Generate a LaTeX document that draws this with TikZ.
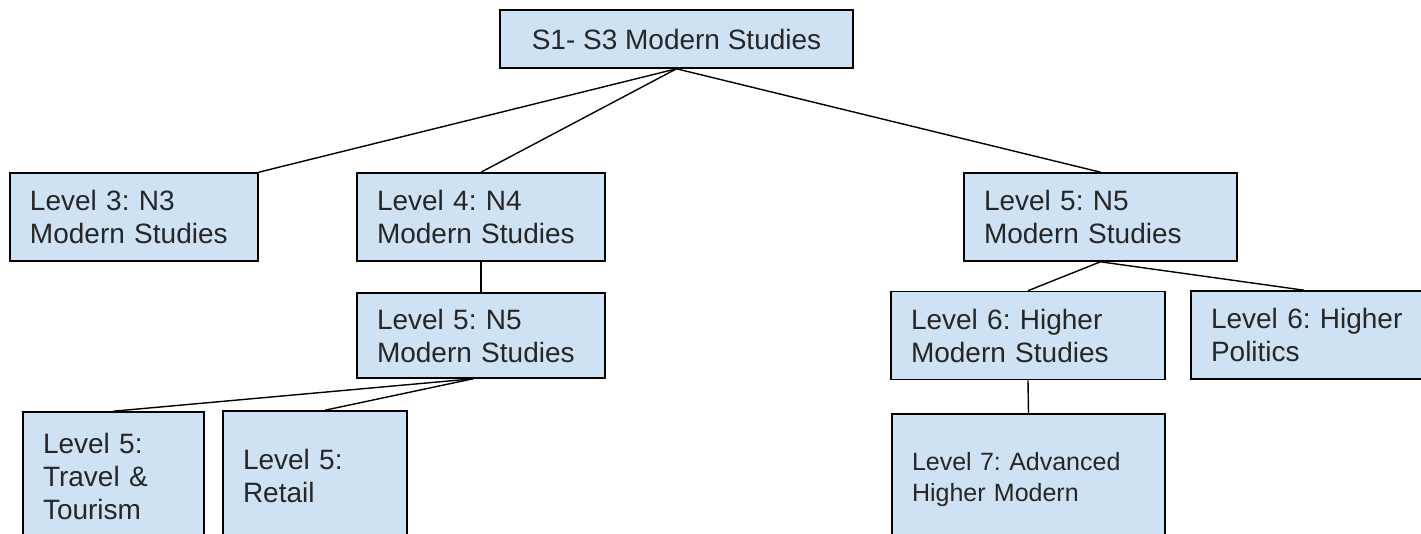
\documentclass[tikz,border=0pt]{standalone}
\usepackage{fontspec}
\setmainfont{Liberation Sans}
\frenchspacing
\definecolor{boxblue}{HTML}{CFE2F3}

\begin{document}
\begin{tikzpicture}[x=0.5pt,y=-0.5pt,
    course/.style={draw=black, fill=boxblue, line width=0.8pt, align=left, text=black!85,
        inner xsep=10pt, inner ysep=0pt, font=\fontsize{14}{16.5}\selectfont},
    link/.style={draw=black, line width=0.7pt}]

        % Fix the page to the size of the picture
        \useasboundingbox (0,0) rectangle (1421,534);
        \clip (0,0) rectangle (1421,534);

        % Draw the S1-S3 course at the top
        \node[course, align=center, minimum width=176.5pt, minimum height=29pt] (broad) at (676.5,39) {S1- S3 Modern Studies};

        % Draw the first row of levels
        \node[course, text width=104pt, minimum height=44pt] (nthree) at (134,217) {Level 3: N3\\Modern Studies};
        \node[course, text width=104pt, minimum height=44pt] (nfour) at (481,217) {Level 4: N4\\Modern Studies};
        \node[course, text width=116.5pt, minimum height=44pt] (nfiveR) at (1100.5,217) {Level 5: N5\\Modern Studies};

        % Draw the courses after N4
        \node[course, text width=104pt, minimum height=42.5pt] (nfiveL) at (481,335.5) {Level 5: N5\\Modern Studies};
        \node[course, text width=70.5pt, minimum height=64pt] (travel) at (113.5,476) {Level 5:\\Travel \&\\Tourism};
        \node[course, text width=72pt, minimum height=64.5pt] (retail) at (315,475.5) {Level 5:\\Retail};

        % Draw the courses after N5
        \node[course, text width=117pt, minimum height=44pt] (higher) at (1028,335.5) {Level 6: Higher\\Modern Studies};
        \node[course, text width=117pt, minimum height=44pt] (politics) at (1328,335) {Level 6: Higher\\Politics};
        \node[course, text width=116.5pt, minimum height=66pt, font=\fontsize{12.5}{15.5}\selectfont] (advanced) at (1028.5,480) {Level 7: Advanced\\Higher Modern};

        % Draw the links
        \draw[link] (broad.south) -- (nthree.north east);
        \draw[link] (broad.south) -- (nfour.north);
        \draw[link] (broad.south) -- (nfiveR.north);
        \draw[link] (nfour.south) -- (nfiveL.north);
        \draw[link] ([xshift=-4pt]nfiveL.south) -- (travel.north);
        \draw[link] ([xshift=-4pt]nfiveL.south) -- ([xshift=5pt]retail.north);
        \draw[link] (nfiveR.south) -- (higher.north);
        \draw[link] (nfiveR.south) -- ([xshift=-12pt]politics.north);
        \draw[link] (higher.south) -- (advanced.north);
    \end{tikzpicture}
\end{document}
